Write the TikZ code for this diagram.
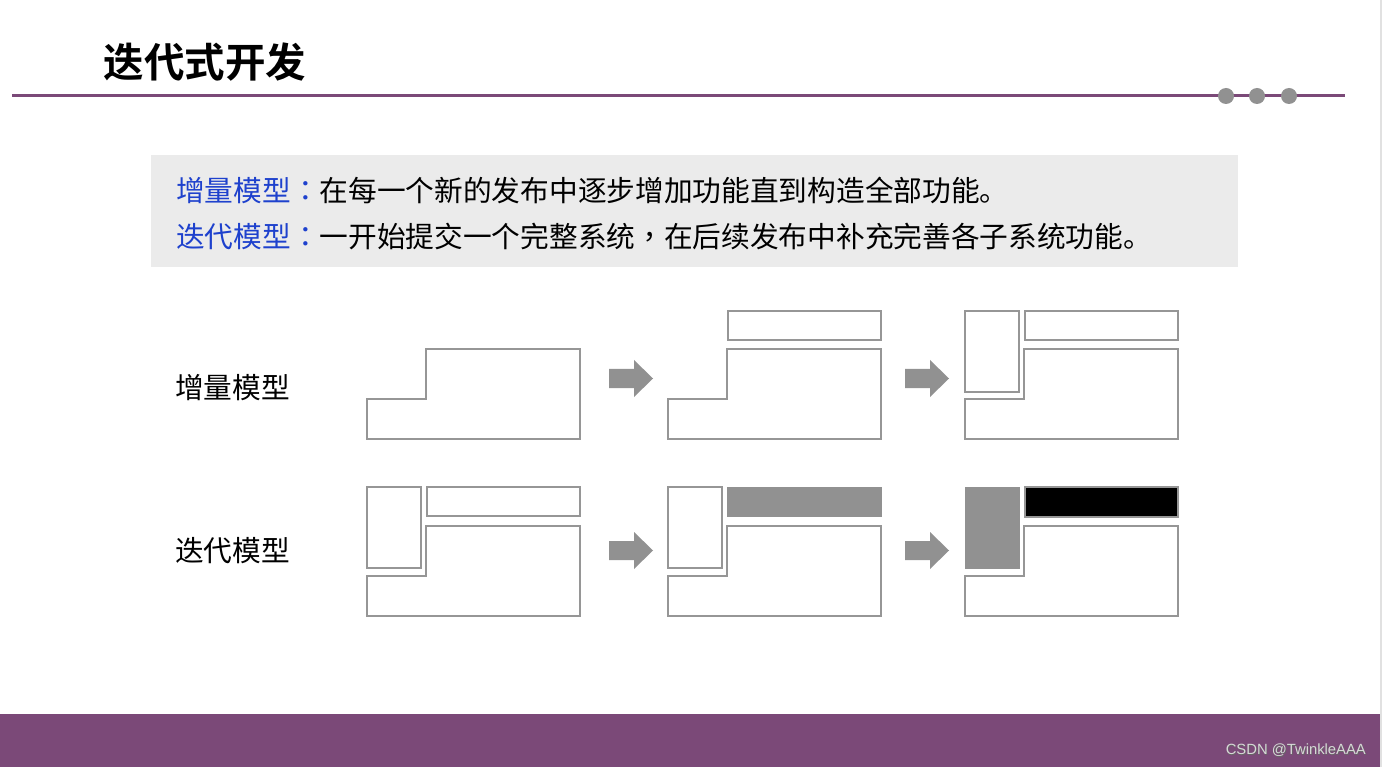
\documentclass[tikz,border=0pt]{standalone}
\usepackage{fontspec}
\newfontfamily\cjk{Noto Sans CJK SC}
\newfontfamily\cjktc{Noto Sans CJK TC}
\newfontfamily\cjkbold{Noto Sans CJK SC Bold}
\setmainfont{Liberation Sans}
\definecolor{plum}{RGB}{123,73,120}
\definecolor{boxgray}{RGB}{235,235,235}
\definecolor{linegray}{RGB}{150,150,150}
\definecolor{fillgray}{RGB}{145,145,145}
\definecolor{kwblue}{RGB}{30,65,205}
\definecolor{edgegray}{RGB}{225,225,225}
\definecolor{foottext}{RGB}{215,215,215}
\newcommand\ccolon{{\cjktc ：}}
\newcommand\ccomma{{\cjktc ，}}
\tikzset{
  outl/.style={draw=linegray, line width=2pt, fill=white, line join=miter},
  thin rect/.style={draw=linegray, line width=1.4pt},
  barrow/.style={fill=fillgray, draw=none},
  dot/.style={circle, fill=fillgray, draw=none, minimum size=16pt, inner sep=0pt},
  lbl/.style={anchor=west, inner sep=0pt, font=\cjk\fontsize{28.7}{30}\selectfont},
}
\newcommand\stairshape[2]{% x0, y0 (top of main block)
  \draw[outl] (#1,#2+50) -- (#1+59,#2+50) -- (#1+59,#2) -- (#1+213,#2) -- (#1+213,#2+90) -- (#1,#2+90) -- cycle;}
\newcommand\blockarrow[2]{% x0, cy
  \fill[barrow] (#1,#2-9.5) -- (#1+25,#2-9.5) -- (#1+25,#2-18.5) -- (#1+44,#2) -- (#1+25,#2+18.5) -- (#1+25,#2+9.5) -- (#1,#2+9.5) -- cycle;}
\begin{document}
\begin{tikzpicture}[x=1pt,y=-1pt]
\useasboundingbox (0,0) rectangle (1382,767);
\fill[white] (0,0) rectangle (1382,767);
% right edge strip
\fill[edgegray] (1380,0) rectangle (1382,767);
% title
\node[anchor=west, inner sep=0pt, font=\cjkbold\fontsize{40.5}{42}\selectfont] (title) at (103.5,62) {迭代式开发};
% header line and dots
\draw[plum, line width=3pt] (12,96) coordinate (hl) -- (1345,96) coordinate (hr);
\node[dot] (d1) at (1226,96) {};
\node[dot] (d2) at (1257,96) {};
\node[dot] (d3) at (1289,96) {};
% info box
\fill[boxgray] (151,155) rectangle (1238,267);
\node[lbl] (l1) at (176,190) {\textcolor{kwblue}{增量模型\ccolon}在每一个新的发布中逐步增加功能直到构造全部功能。};
\node[lbl] (l2) at (176,237) {\textcolor{kwblue}{迭代模型\ccolon}一开始提交一个完整系统\ccomma 在后续发布中补充完善各子系统功能。};
% row labels
\node[lbl] (r1) at (175,388) {增量模型};
\node[lbl] (r2) at (175,551) {迭代模型};
% row 1: incremental
\stairshape{367}{349}
\blockarrow{609}{378.5}
\stairshape{668}{349}
\draw[thin rect] (728,311) rectangle (881,340);
\blockarrow{905}{378.5}
\stairshape{965}{349}
\draw[thin rect] (965,311) rectangle (1019,392);
\draw[thin rect] (1025,311) rectangle (1178,340);
% row 2: iterative
\stairshape{367}{526}
\draw[thin rect] (367,487) rectangle (421,568);
\draw[thin rect] (427,487) rectangle (580,516);
\blockarrow{609}{550.5}
\stairshape{668}{526}
\draw[thin rect] (668,487) rectangle (722,568);
\fill[fillgray] (727,487) rectangle (882,517);
\blockarrow{905}{550.5}
\stairshape{965}{526}
\fill[fillgray] (964.5,487) rectangle (1019.5,569);
\draw[thin rect, fill=black] (1025,487) rectangle (1178,517);
% footer
\fill[plum] (0,714) rectangle (1380,767);
\node[anchor=east, inner sep=0pt, text=black!60, font=\fontsize{14.8}{16}\selectfont] at (1366.7,750.7) {CSDN @TwinkleAAA};
\node[anchor=east, inner sep=0pt, text=foottext, font=\fontsize{14.8}{16}\selectfont] (foot) at (1366,750) {CSDN @TwinkleAAA};
\end{tikzpicture}
\end{document}
